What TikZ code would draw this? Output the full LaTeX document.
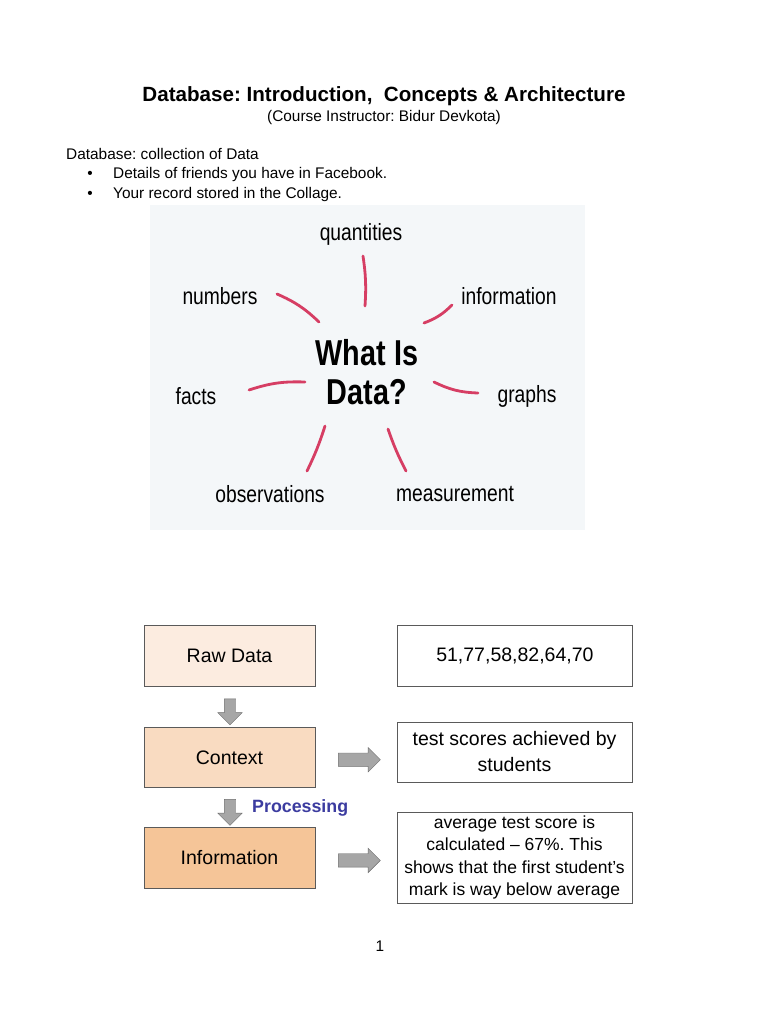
\documentclass[tikz,border=0pt]{standalone}
\usepackage{fontspec}
\setmainfont{Liberation Sans}
\newfontfamily\narrowfont[FakeStretch=0.82]{Liberation Sans}
\newfontfamily\narrowbold[FakeStretch=0.80]{Liberation Sans Bold}
\usetikzlibrary{shapes.arrows, positioning, calc}
\definecolor{spokered}{RGB}{214,62,100}
\definecolor{panelbg}{RGB}{244,247,249}
\definecolor{boxline}{RGB}{90,90,90}
\definecolor{rawfill}{RGB}{252,236,224}
\definecolor{ctxfill}{RGB}{249,219,193}
\definecolor{infofill}{RGB}{245,197,152}
\definecolor{arrowgray}{RGB}{166,166,166}
\definecolor{arrowline}{RGB}{110,110,110}
\definecolor{procblue}{RGB}{60,60,160}
\frenchspacing

\begin{document}
\begin{tikzpicture}[
    x=1pt, y=-1pt,
    body/.style={font=\fontsize{15.4}{18}\selectfont, inner sep=0pt},
    word/.style={font=\narrowfont\fontsize{23.5}{27}\selectfont, inner sep=0pt},
    spoke/.style={spokered, line width=2.8pt, line cap=round},
    stage/.style={rectangle, draw=boxline, minimum width=171pt, minimum height=61pt, font=\fontsize{19.5}{24}\selectfont},
    result/.style={rectangle, draw=boxline, fill=white, minimum width=235pt, inner sep=0pt, align=center},
    downarrow/.style={single arrow, draw=arrowline, fill=arrowgray, shape border rotate=270, inner sep=5.5pt, minimum height=26pt, single arrow head extend=6.5pt},
    rightarrow/.style={single arrow, draw=arrowline, fill=arrowgray, inner sep=6.5pt, minimum height=42pt, single arrow head extend=5.5pt},
]
    \useasboundingbox (0,0) rectangle (768,1024);
    \fill[white] (0,0) rectangle (768,1024);

    % Heading
    \node[font=\bfseries\fontsize{20.6}{24}\selectfont, inner sep=0pt, anchor=base] (title) at (384,102) {Database: Introduction,\ \ Concepts \& Architecture};
    \node[body, anchor=base] (instructor) at (384,122) {(Course Instructor: Bidur Devkota)};

    % Definition and examples
    \node[body, anchor=base west] (defn) at (66,160) {Database: collection of Data};
    \node[body, anchor=base] (dot1) at (90,179) {\textbullet};
    \node[body, anchor=base west] (ex1) at (113,179) {Details of friends you have in Facebook.};
    \node[body, anchor=base] (dot2) at (90,199) {\textbullet};
    \node[body, anchor=base west] (ex2) at (113,199) {Your record stored in the Collage.};

    % What is data picture
    \fill[panelbg] (150,205) rectangle (585,530);
    \node[font=\narrowbold\fontsize{36}{39}\selectfont, align=center, inner sep=0pt] (hub) at (367,372) {What Is\\Data?};
    \node[word] (quant) at (361,234) {quantities};
    \node[word] (numb) at (220,296) {numbers};
    \node[word] (inform) at (509,296) {information};
    \node[word] (facts) at (196,396) {facts};
    \node[word] (graphs) at (527,396) {graphs};
    \node[word] (obs) at (270,494) {observations};
    \node[word] (meas) at (455,494) {measurement};

    \draw[spoke] (363,256) to[bend left=6] (365,306);
    \draw[spoke] (277,294) to[bend left=10] (319,322);
    \draw[spoke] (452,305) to[bend left=12] (424,323);
    \draw[spoke] (249,390) to[bend left=10] (305,382);
    \draw[spoke] (434,382) to[bend right=12] (478,393);
    \draw[spoke] (325,426) to[bend left=4] (307,471);
    \draw[spoke] (388,429) to[bend right=4] (406,471);

    % Raw data to information
    \node[stage, fill=rawfill] (raw) at (229.5,655.5) {Raw Data};
    \node[stage, fill=ctxfill, below=41pt of raw, minimum height=60pt] (ctx) {Context};
    \node[stage, fill=infofill, below=39pt of ctx] (info) {Information};

    \node[result, minimum height=61pt, right=82pt of raw, font=\fontsize{19.5}{24}\selectfont] (vals) {51,77,58,82,64,70};
    \node[result, minimum height=60pt, font=\fontsize{19.5}{26}\selectfont] (meaning) at (514.5,752) {test scores achieved by\\students};
    \node[result, minimum height=91pt, font=\fontsize{17.5}{22.4}\selectfont] (avg) at (514.5,857.5) {average test score is\\calculated -- 67\%. This\\shows that the first student’s\\mark is way below average};

    \node[downarrow] (down1) at (230,709) {};
    \node[downarrow] (down2) at (230,809.5) {};
    \node[rightarrow] (right1) at ($(ctx.east)!0.5!(meaning.west)+(0,5)$) {};
    \node[rightarrow] (right2) at ($(info.east)!0.5!(avg.west)+(0,3)$) {};
    \node[font=\bfseries\fontsize{17.8}{20}\selectfont, text=procblue, anchor=west, inner sep=0pt] (proc) at (252,808) {Processing};

    % Page number
    \node[body] (page) at (380,946) {1};
\end{tikzpicture}
\end{document}
